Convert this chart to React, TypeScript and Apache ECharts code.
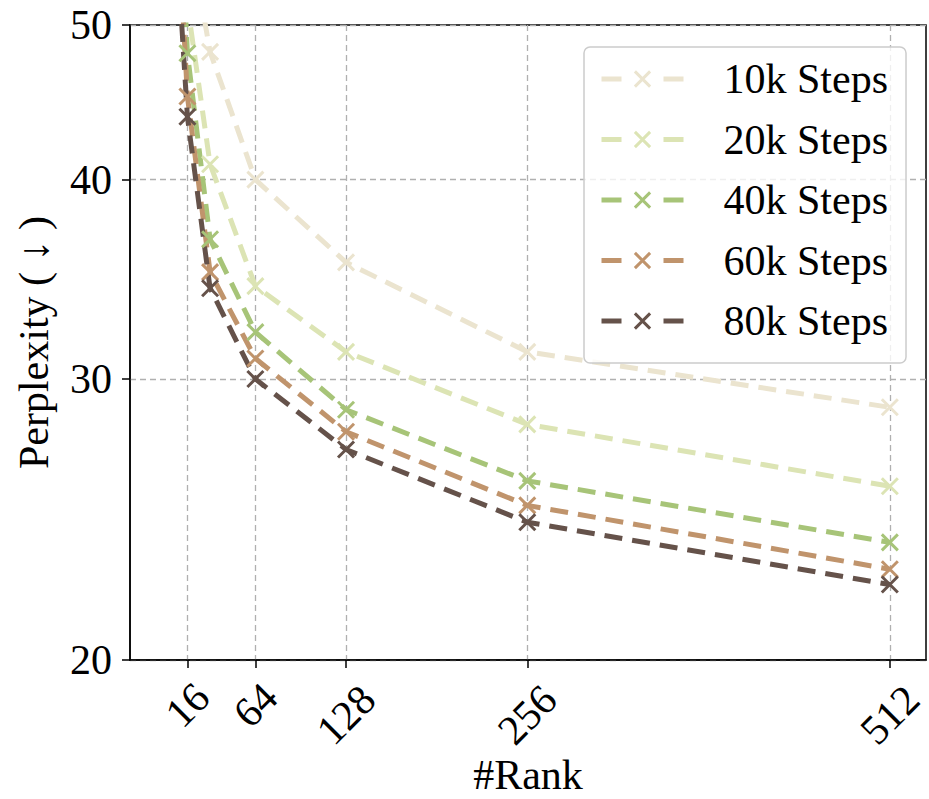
import React, { useEffect, useRef } from 'react';
import * as echarts from 'echarts';

// ---- data ----
const ranks = [1, 16, 32, 64, 128, 256, 512];
const seriesNames = ['10k Steps', '20k Steps', '40k Steps', '60k Steps', '80k Steps'];
const steps10k = [100, 58, 48.1, 40.0, 35.5, 31.2, 28.8];
const steps20k = [95, 51.5, 40.9, 34.3, 31.2, 28.1, 25.7];
const steps40k = [90, 48.0, 36.7, 32.1, 28.7, 25.9, 23.7];
const steps60k = [80, 45.1, 35.0, 30.9, 27.8, 25.0, 22.8];
const steps80k = [72, 43.8, 34.2, 30.0, 27.1, 24.4, 22.3];
const xTicks = [16, 64, 128, 256, 512];
const yTicks = [20, 30, 40, 50];

const colors = ['#ebe4cf', '#dce4b4', '#a7c478', '#c0946c', '#65524a'];
const FONT = "'Liberation Serif', 'Times New Roman', serif";
const X_SYMBOL = 'path://M0,0L10,10M10,0L0,10';

export default function App() {
  const ref = useRef<HTMLDivElement>(null);
  useEffect(() => {
    if (!ref.current) return;
    const chart = echarts.init(ref.current, undefined, { renderer: 'svg' });
    const all = [steps10k, steps20k, steps40k, steps60k, steps80k];
    const gridLine = { show: true, lineStyle: { color: '#b0b0b0', type: [6, 4], width: 1.3 } };
    const axisLineStyle = { color: '#000', width: 1.5 };
    chart.setOption({
      animation: false,
      backgroundColor: '#fff',
      grid: {
        left: 130, right: 3, top: 25, bottom: 139,
        outerBoundsMode: 'none',
        containLabel: false,
        show: true, borderColor: '#000', borderWidth: 1.5, backgroundColor: 'transparent',
      },
      legend: {
        orient: 'vertical', left: 584, top: 47,
        data: seriesNames,
        itemWidth: 82, itemHeight: 19, itemGap: 18.5,
        padding: [11, 18, 21, 15],
        backgroundColor: 'rgba(255,255,255,0.8)',
        borderColor: '#cccccc', borderWidth: 1.5, borderRadius: 6,
        lineStyle: { type: [20, 42], width: 5 },
        itemStyle: { borderWidth: 3 },
        textStyle: { fontSize: 42, fontFamily: FONT, color: '#000', lineHeight: 40, padding: [0, 0, 0, 35] },
        selectedMode: false,
      },
      xAxis: {
        type: 'value', min: -24.55, max: 537.55,
        axisLine: { show: true, onZero: false, lineStyle: axisLineStyle },
        axisTick: { show: true, customValues: xTicks, length: 8, lineStyle: axisLineStyle },
        axisLabel: {
          customValues: xTicks, rotate: 45, align: 'center', verticalAlign: 'middle', margin: 45,
          fontSize: 42, fontFamily: FONT, color: '#000',
          formatter: (v: number) => (String(v).length >= 3 ? `{l|${v}}` : `{s|${v}}`),
          rich: {
            s: { fontSize: 42, fontFamily: FONT, color: '#000' },
            l: { fontSize: 42, fontFamily: FONT, color: '#000', padding: [14, 14, 0, 0] },
          },
        },
        splitLine: gridLine,
        name: '#Rank', nameLocation: 'middle', nameGap: 94, nameMoveOverlap: false,
        nameTextStyle: { fontSize: 42, fontFamily: FONT, color: '#000' },
      },
      yAxis: {
        type: 'log', logBase: 10, min: 20, max: 50,
        axisLine: { show: true, onZero: false, lineStyle: axisLineStyle },
        axisTick: { show: true, customValues: yTicks, length: 8, lineStyle: axisLineStyle },
        axisLabel: { customValues: yTicks, fontSize: 42, fontFamily: FONT, color: '#000', margin: 18 },
        splitLine: gridLine,
        minorTick: { show: false },
        minorSplitLine: { show: false },
        name: 'Perplexity ( ↓ )', nameLocation: 'middle', nameGap: 75, nameRotate: 90, nameMoveOverlap: false,
        nameTextStyle: { fontSize: 42, fontFamily: FONT, color: '#000' },
      },
      series: all.map((vals, i) => ({
        type: 'line',
        name: seriesNames[i],
        data: ranks.map((r, j) => [r, vals[j]]),
        symbol: X_SYMBOL,
        symbolSize: 16,
        lineStyle: { color: colors[i], width: 5, type: [18, 10] },
        itemStyle: { color: colors[i], borderColor: colors[i], borderWidth: 3 },
        clip: true,
        emphasis: { disabled: true },
      })),
    });
    return () => chart.dispose();
  }, []);
  return (
    <div
      ref={ref}
      style={{ position: 'fixed', left: 0, top: 0, width: 929, height: 799, background: '#fff' }}
    />
  );
}
